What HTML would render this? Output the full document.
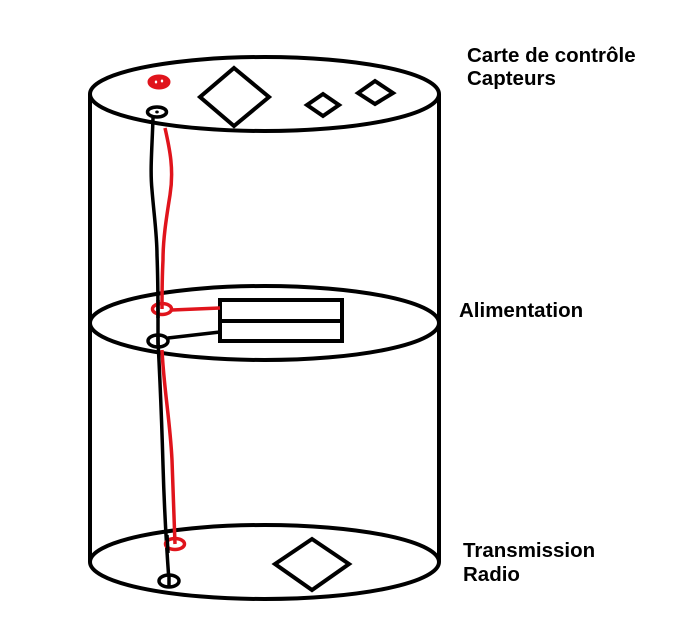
<!DOCTYPE html>
<html>
<head>
<meta charset="utf-8">
<style>
  html, body { margin:0; padding:0; background:#fff; }
  body { width:674px; height:643px; overflow:hidden; }
  svg { display:block; }
  text { font-family: "Liberation Sans", Arial, sans-serif; font-weight:bold; font-size:20.5px; fill:#000; }
</style>
</head>
<body>
<svg width="674" height="643" viewBox="0 0 674 643" xmlns="http://www.w3.org/2000/svg">
  <rect width="674" height="643" fill="#fff"/>
  <!-- cylinder sides -->
  <line x1="90" y1="94" x2="90" y2="562" stroke="#000" stroke-width="4"/>
  <line x1="439" y1="94" x2="439" y2="562" stroke="#000" stroke-width="4"/>
  <!-- ellipses -->
  <ellipse cx="264.5" cy="94" rx="174.5" ry="37" fill="none" stroke="#000" stroke-width="4"/>
  <ellipse cx="264.5" cy="323" rx="174.5" ry="37" fill="none" stroke="#000" stroke-width="4"/>
  <ellipse cx="264.5" cy="562" rx="174.5" ry="37" fill="none" stroke="#000" stroke-width="4"/>

  <!-- top diamonds -->
  <polygon points="234,68 269,97 234,126 200,97" fill="none" stroke="#000" stroke-width="4"/>
  <polygon points="323,94 339,105 323,116 307,105" fill="none" stroke="#000" stroke-width="4"/>
  <polygon points="375,81 393,93 375,104 358,93" fill="none" stroke="#000" stroke-width="4"/>

  <!-- bottom diamond -->
  <polygon points="312,539 349,564 312,590 275,564" fill="none" stroke="#000" stroke-width="4"/>

  <!-- middle battery rectangle -->
  <rect x="220" y="300" width="122" height="41" fill="none" stroke="#000" stroke-width="4"/>
  <line x1="220" y1="321" x2="342" y2="321" stroke="#000" stroke-width="4"/>

  <!-- wires: black -->
  <path d="M153,118 C152,150 150,170 152,190 C154,215 157,235 157,255 C158,280 158,300 158,320 L158,341 C160,380 162,430 163,465 C164,500 166,540 169,581" fill="none" stroke="#000" stroke-width="3.5"/>
  <!-- wires: red -->
  <path d="M165,128 C170,150 174,170 170,195 C166,220 163,240 163,260 C162,280 162,295 162,309" fill="none" stroke="#e0141c" stroke-width="3.5"/>
  <path d="M162,350 C164,390 170,420 172,460 C173,490 174,515 175,544" fill="none" stroke="#e0141c" stroke-width="3.5"/>
  <line x1="172" y1="310" x2="220" y2="308" stroke="#e0141c" stroke-width="3.5"/>
  <line x1="168" y1="338" x2="220" y2="332" stroke="#000" stroke-width="3.5"/>

  <!-- connectors top -->
  <ellipse cx="159" cy="82" rx="10.5" ry="6.5" fill="#e0141c" stroke="#e0141c" stroke-width="2"/>
  <ellipse cx="156" cy="82" rx="1.2" ry="1.5" fill="#fff"/>
  <ellipse cx="162" cy="81" rx="1.2" ry="1.5" fill="#fff"/>
  <ellipse cx="157" cy="112" rx="9.5" ry="5" fill="#fff" stroke="#000" stroke-width="3.5"/>
  <ellipse cx="157" cy="112" rx="1.8" ry="1.5" fill="#000"/>

  <!-- connectors middle -->
  <ellipse cx="162" cy="309" rx="9.5" ry="5.5" fill="none" stroke="#e0141c" stroke-width="3.5"/>
  <line x1="158" y1="300" x2="158" y2="318" stroke="#000" stroke-width="3.5"/>
  <ellipse cx="158" cy="341" rx="10" ry="6" fill="none" stroke="#000" stroke-width="3.5"/>
  <line x1="158" y1="335" x2="158" y2="347" stroke="#000" stroke-width="3.5"/>

  <!-- connectors bottom -->
  <ellipse cx="175" cy="544" rx="9.5" ry="5.5" fill="none" stroke="#e0141c" stroke-width="3.5"/>
  <line x1="167" y1="535" x2="168" y2="553" stroke="#000" stroke-width="3.5"/>
  <ellipse cx="169" cy="581" rx="10" ry="6" fill="#fff" stroke="#000" stroke-width="3.5"/>
  <line x1="169" y1="575" x2="169" y2="586" stroke="#000" stroke-width="3.5"/>

  <!-- labels -->
  <text x="467" y="62">Carte de contrôle</text>
  <text x="467" y="85">Capteurs</text>
  <text x="459" y="317">Alimentation</text>
  <text x="463" y="557">Transmission</text>
  <text x="463" y="581">Radio</text>
</svg>
</body>
</html>
